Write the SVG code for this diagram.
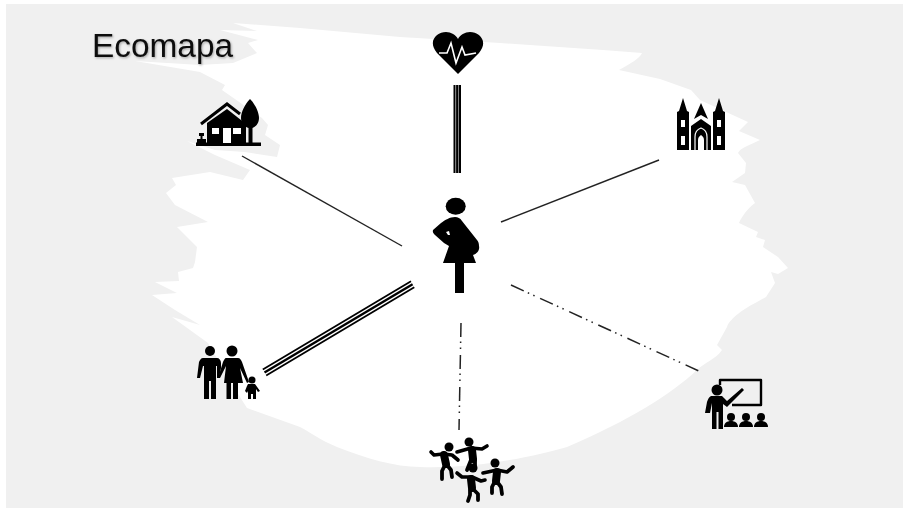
<svg xmlns="http://www.w3.org/2000/svg" width="903" height="509" viewBox="0 0 903 509">
<defs>
<style>
.ink{fill:#000}
.blank{fill:#fff}
.thin{stroke:#222;stroke-width:1.4;fill:none}
.dash{stroke:#222;stroke-width:1.5;fill:none;stroke-dasharray:14 4.500 1.500 4.500 1.500 6}
.bar{stroke:#000;fill:none}
.limb{stroke:#000;fill:none;stroke-linecap:round;stroke-linejoin:round}
text{font-family:"Liberation Sans",Arial,sans-serif;font-size:33.4px;fill:#111}
</style>
<filter id="soft" x="-10%" y="-10%" width="120%" height="120%"><feGaussianBlur stdDeviation="0.35"/></filter>
<filter id="shadow" x="-10%" y="-20%" width="120%" height="150%"><feDropShadow dx="1" dy="1.2" stdDeviation="1" flood-color="#000" flood-opacity="0.3"/></filter>
</defs>
<rect width="903" height="509" fill="#fff"/>
<rect x="6" y="4" width="897" height="504" fill="#f0f0f0"/>
<path id="brush" fill="#fff" d="M135 61L200 65L233 63L257 53L248 43L258 40L220 30L257 31L233 23L300 28L400 37L500 43L603 50L642 53C640 58 630 64 619 70L660 79L691 90L700 100L748 122L739 131L760 140C750 145 740 148 738 153L746 163L745 173L732 182L745 185L755 203C748 208 742 216 739 223L758 232L756 237L765 240L763 247L778 257L788 268L778 274L771 272L775 283L766 297L757 302C745 308 730 318 727 327L717 345L722 350C715 360 705 362 697 370C670 395 630 420 567 447C530 458 470 469 420 467C395 467 365 458 337 447C320 440 310 432 300 427L247 408L240 397L208 343L172 317L200 325L175 310L152 295L177 293L155 282L179 281L178 272L193 268L195 262L197 247L177 227L208 222L175 205L166 193L176 185L172 178L210 172L243 180L250 170L215 155L187 141L215 150L245 152L277 157L280 145L265 135L268 125L262 118L222 90L225 85L200 72Z"/>
<g id="connectors" filter="url(#soft)">
<path class="thin" d="M242 156L402 246"/>
<path class="thin" d="M659 160L501 222"/>
<path class="dash" d="M511 285L701 372"/>
<path class="dash" d="M461 323L459 430"/>
<path class="bar" stroke-width="2" d="M454.500 85V173M460 85V173"/>
<path class="bar" stroke-width="2.400" d="M457.300 85V173"/>
<path class="bar" stroke-width="1.800" d="M262.800 369.500L411 281.200M266.200 375.600L414.300 287.200"/>
<path class="bar" stroke-width="2.400" d="M264.500 372.500L412.600 284.200"/>
</g>
<g id="title" filter="url(#shadow)"><text x="92" y="57">Ecomapa</text></g>
<g id="health" filter="url(#soft)">
<path class="ink" d="M458 74L437 53C427 41 437 32 446 32C451 32 456 35 458 39C460 35 465 32 470 32C479 32 489 41 479 53Z"/>
<path fill="none" stroke="#fff" stroke-width="1.600" d="M439 53H447L451 43L456 63L462 47L465 55L476 53"/>
</g>
<g id="home" filter="url(#soft)">
<path class="ink" d="M196 142.500H261V146H196Z"/>
<path fill="none" stroke="#000" stroke-width="3" d="M201 124L227 104L240 114"/>
<path class="ink" d="M207 143V123L227 109L246 124V143Z"/>
<path class="blank" d="M212 128H219V134H212ZM223 128H231V143H223ZM233 128H241V134H233Z"/>
<path class="ink" d="M250 99C255 104 259 112 259 118C259 124 255 127 252.500 128V143H248.500V128C245 127 241 124 241 118C241 112 245 104 250 99Z"/>
<path class="ink" d="M199 133H204V136H202.500V139H206V143H197V139H200.500V136H199Z"/>
</g>
<g id="church" filter="url(#soft)">
<path class="ink" d="M677 150V112L679 111L683 98L687 111L689 112V150Z"/>
<path class="ink" d="M713 150V112L715 111L719 98L723 111L725 112V150Z"/>
<path class="ink" d="M691 150V126L701 119L711 126V150ZM694 119L701 103L708 119L701 115Z"/>
<path class="blank" d="M681 120H685V127H681ZM681 136H685V145H681ZM717 120H721V127H717ZM717 136H721V145H717Z"/>
<path fill="none" stroke="#fff" stroke-width="1.200" d="M695 150V137C695 132 698 129 701 128C704 129 707 132 707 137V150"/>
<path class="blank" d="M698 150V140C698 137 700 136 701 135C702 136 704 137 704 140V150Z"/>
</g>
<g id="mother" filter="url(#soft)">
<ellipse class="ink" cx="455.700" cy="206.300" rx="10" ry="8.500"/>
<path class="ink" d="M455 217C450 217 445 220 441 223L433 230C432.500 232 433 233 435 235L444 243L449 246L443 263H455V293H464V263H476L473 255C477 254 480 250 479 246C479 243 478 241 477 240L462 221C460 218 458 217 455 217Z"/>
<path class="blank" d="M446 232L449 231L450 235L448 235Z"/>
</g>
<g id="family" filter="url(#soft)">
<circle class="ink" cx="210" cy="351" r="5"/>
<path class="ink" d="M203 358H217C219 358 221 360 221 363V368L219 378H217V366H216V399H211V381H209V399H204V366H203L200 378H197L199 362C200 360 201 358 203 358Z"/>
<circle class="ink" cx="232" cy="351" r="5.500"/>
<path class="ink" d="M226 358H238C240 358 241 360 242 362L249 382L247 383L240 368L243 383H238V399H233V383H231V399H226.500V383H224L226 366L220 378L218 378L223 362C224 360 225 358 226 358Z"/>
<circle class="ink" cx="252" cy="380" r="3.500"/>
<path class="ink" d="M248 384H255L260 391L258 392L256 389V399H253V394H251V399H248V391L247 393L245 391L247 386Z"/>
</g>
<g id="friends" filter="url(#soft)">
<circle class="ink" cx="449" cy="447" r="4.500"/>
<circle class="ink" cx="469" cy="442" r="4.500"/>
<circle class="ink" cx="473" cy="468" r="4.500"/>
<circle class="ink" cx="495" cy="463" r="4.500"/>
<path class="limb" stroke-width="3.600" d="M431 452L434 455L443 454L452 455L458 460"/>
<path class="limb" stroke-width="8" d="M444 455L446 464"/>
<path class="limb" stroke-width="3.800" d="M445 465L442 471V479M447 465L451 470L452 477"/>
<path class="limb" stroke-width="3.600" d="M457 452L471 448L482 449L487 446"/>
<path class="limb" stroke-width="8" d="M472 450L473 459"/>
<path class="limb" stroke-width="3.800" d="M471 460L467 470M475 460L475 468"/>
<path class="limb" stroke-width="3.600" d="M457 473L462 477L472 477L481 481L485 480"/>
<path class="limb" stroke-width="8" d="M471 479L472 488"/>
<path class="limb" stroke-width="3.800" d="M470 490L470 495L468 501M474 490L478 494V500"/>
<path class="limb" stroke-width="3.600" d="M483 473L497 470L507 472L513 467"/>
<path class="limb" stroke-width="8" d="M497 472L496 481"/>
<path class="limb" stroke-width="3.800" d="M494 483L492 487V493M498 483L501 487L502 494"/>
</g>
<g id="school" filter="url(#soft)">
<circle class="ink" cx="717" cy="390" r="5.500"/>
<path class="ink" d="M711 396H722L727 401L742 388L744 390L727 407L723 404V429H718.500V412H716.500V429H712V403L710 413H705L707 402C708 399 709 397 711 396Z"/>
<path fill="none" stroke="#000" stroke-width="2.400" stroke-linejoin="round" d="M720 385V380H761V405H732"/>
<g class="ink">
<circle cx="731" cy="417" r="4"/><path d="M724 427C724 423 727 421 731 421C735 421 738 423 738 427Z"/>
<circle cx="746" cy="417" r="4"/><path d="M739 427C739 423 742 421 746 421C750 421 753 423 753 427Z"/>
<circle cx="761" cy="417" r="4"/><path d="M754 427C754 423 757 421 761 421C765 421 768 423 768 427Z"/>
</g>
</g>
</svg>
